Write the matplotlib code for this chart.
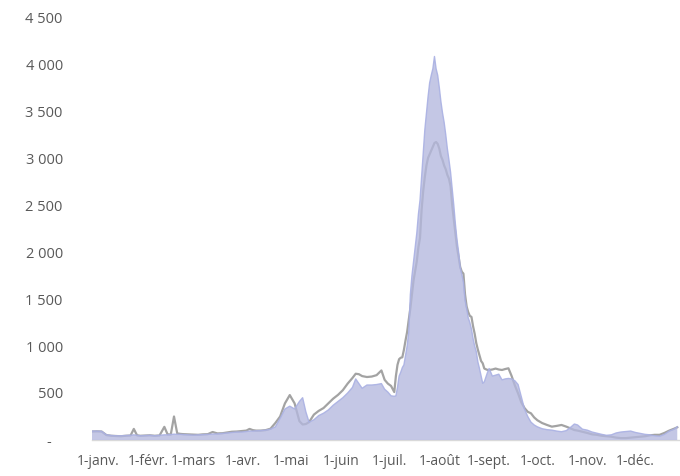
import matplotlib
matplotlib.use("Agg")
import matplotlib.pyplot as plt
from matplotlib.ticker import FuncFormatter, FixedLocator

# ---- data (day of year index) ----
days = [0, 3, 6, 9, 12, 15, 18, 21, 24, 26, 28, 30, 33, 36, 39, 42, 45, 47, 49, 51,
        53, 55, 57, 60, 63, 66, 69, 72, 75, 78, 81, 84, 87, 90, 93, 96, 98, 100, 102, 105,
        108, 111, 114, 117, 120, 123, 126, 129, 131, 133, 135, 138, 141, 144, 147, 150, 153, 156, 159, 162,
        164, 166, 168, 171, 174, 177, 180, 182, 184, 186, 188, 189, 190, 191, 192, 193, 194, 195, 196, 197,
        198, 199, 200, 201, 202, 203, 204, 205, 206, 207, 208, 209, 210, 211, 212, 213, 214, 215, 216, 217,
        218, 219, 220, 221, 222, 223, 224, 225, 226, 227, 228, 229, 230, 231, 232, 233, 234, 235, 236, 237,
        238, 239, 240, 241, 242, 243, 244, 246, 247, 249, 251, 253, 255, 257, 259, 261, 263, 265, 267, 269,
        271, 273, 275, 277, 280, 283, 286, 289, 292, 295, 298, 300, 302, 305, 308, 311, 314, 317, 320, 323,
        326, 329, 332, 335, 338, 341, 344, 347, 350, 353, 356, 359, 362, 364]

area_vals = [95, 95, 92, 55, 48, 45, 45, 48, 50, 55, 50, 45, 48, 50, 45, 50, 55, 55, 58, 62,
             60, 60, 58, 55, 52, 55, 58, 60, 62, 65, 70, 75, 80, 85, 85, 90, 95, 95, 98, 100,
             105, 115, 140, 230, 330, 360, 330, 410, 450, 300, 190, 215, 260, 285, 320, 370, 410, 450, 500, 560,
             650, 600, 550, 585, 585, 590, 600, 540, 510, 470, 465, 470, 560, 680, 720, 770, 800, 900, 1000, 1150,
             1550, 1750, 1900, 2050, 2200, 2400, 2550, 2800, 3050, 3300, 3480, 3650, 3800, 3880, 3950, 4080, 3950, 3880, 3750, 3600,
             3480, 3380, 3250, 3100, 2980, 2850, 2680, 2500, 2300, 2130, 2000, 1840, 1760, 1680, 1490, 1400, 1300, 1250, 1180, 1080,
             1000, 940, 830, 760, 680, 603, 620, 720, 760, 680, 690, 700, 640, 650, 655, 650, 630, 590, 461, 330,
             250, 190, 160, 140, 120, 110, 105, 95, 88, 100, 140, 170, 160, 115, 105, 85, 72, 60, 50, 55,
             75, 85, 90, 95, 80, 70, 60, 55, 45, 40, 60, 95, 115, 140]

line_vals = [90, 92, 90, 52, 45, 42, 40, 45, 48, 118, 50, 45, 48, 50, 45, 48, 140, 60, 58, 250,
             70, 65, 62, 60, 58, 55, 60, 62, 85, 70, 72, 80, 88, 90, 95, 100, 118, 105, 100, 100,
             105, 120, 180, 250, 390, 478, 390, 200, 165, 170, 190, 270, 310, 340, 390, 440, 480, 530, 600, 660,
             705, 700, 680, 670, 675, 690, 740, 640, 600, 575, 510, 680, 800, 860, 875, 880, 960, 1060, 1150, 1280,
             1400, 1550, 1700, 1800, 1900, 2050, 2150, 2450, 2650, 2800, 2920, 3000, 3040, 3080, 3120, 3160, 3170, 3150, 3100, 3020,
             2980, 2920, 2880, 2820, 2780, 2700, 2500, 2350, 2200, 2050, 1950, 1840, 1790, 1770, 1550, 1420, 1360, 1320, 1310, 1210,
             1130, 1030, 960, 900, 840, 816, 760, 745, 745, 750, 760, 750, 745, 755, 763, 680, 580, 496, 400, 340,
             300, 284, 240, 210, 180, 160, 142, 150, 160, 142, 120, 106, 100, 88, 75, 60, 55, 45, 40, 35,
             25, 20, 20, 25, 30, 35, 40, 50, 55, 55, 75, 100, 120, 135]

month_starts = [0, 31, 59, 90, 120, 151, 181, 212, 243, 273, 304, 334]
month_labels = ["1-janv.", "1-févr.", "1-mars", "1-avr.", "1-mai", "1-juin",
                "1-juil.", "1-août", "1-sept.", "1-oct.", "1-nov.", "1-déc."]
y_ticks = [0, 500, 1000, 1500, 2000, 2500, 3000, 3500, 4000, 4500]

plt.rcParams['font.family'] = ['Open Sans', 'DejaVu Sans']

fig = plt.figure(figsize=(6.8, 4.76), dpi=100)
ax = fig.add_axes([92 / 680, 1 - 440 / 476, 1 - 92 / 680, (440 - 17) / 476])

ax.plot(days, line_vals, color='#a3a3a3', lw=1.6, zorder=2)
ax.fill_between(days, area_vals, 0, facecolor='#b4b8de', edgecolor='none', alpha=0.78, zorder=3)
ax.plot(days, area_vals, color='#aab1e3', lw=1.0, alpha=0.9, zorder=4)

ax.set_xlim(0, 365.7)
ax.set_ylim(0, 4500)

ax.yaxis.set_major_locator(FixedLocator(y_ticks))


def yfmt(v, pos):
    if v == 0:
        return "-   "
    return f"{int(v):,}".replace(",", " ")


ax.yaxis.set_major_formatter(FuncFormatter(yfmt))
ax.set_xticks([m + 4 for m in month_starts])
ax.set_xticklabels(month_labels)

ax.tick_params(axis='y', length=0, pad=21, labelsize=10.5, labelcolor='#595959')
ax.tick_params(axis='x', length=0, pad=10, labelsize=10, labelcolor='#595959')

for s in ['left', 'right', 'top']:
    ax.spines[s].set_visible(False)
ax.spines['bottom'].set_color('#d9d9d9')
ax.spines['bottom'].set_linewidth(1.0)
ax.spines['bottom'].set_zorder(1)

fig.savefig("out.png", dpi=100)
